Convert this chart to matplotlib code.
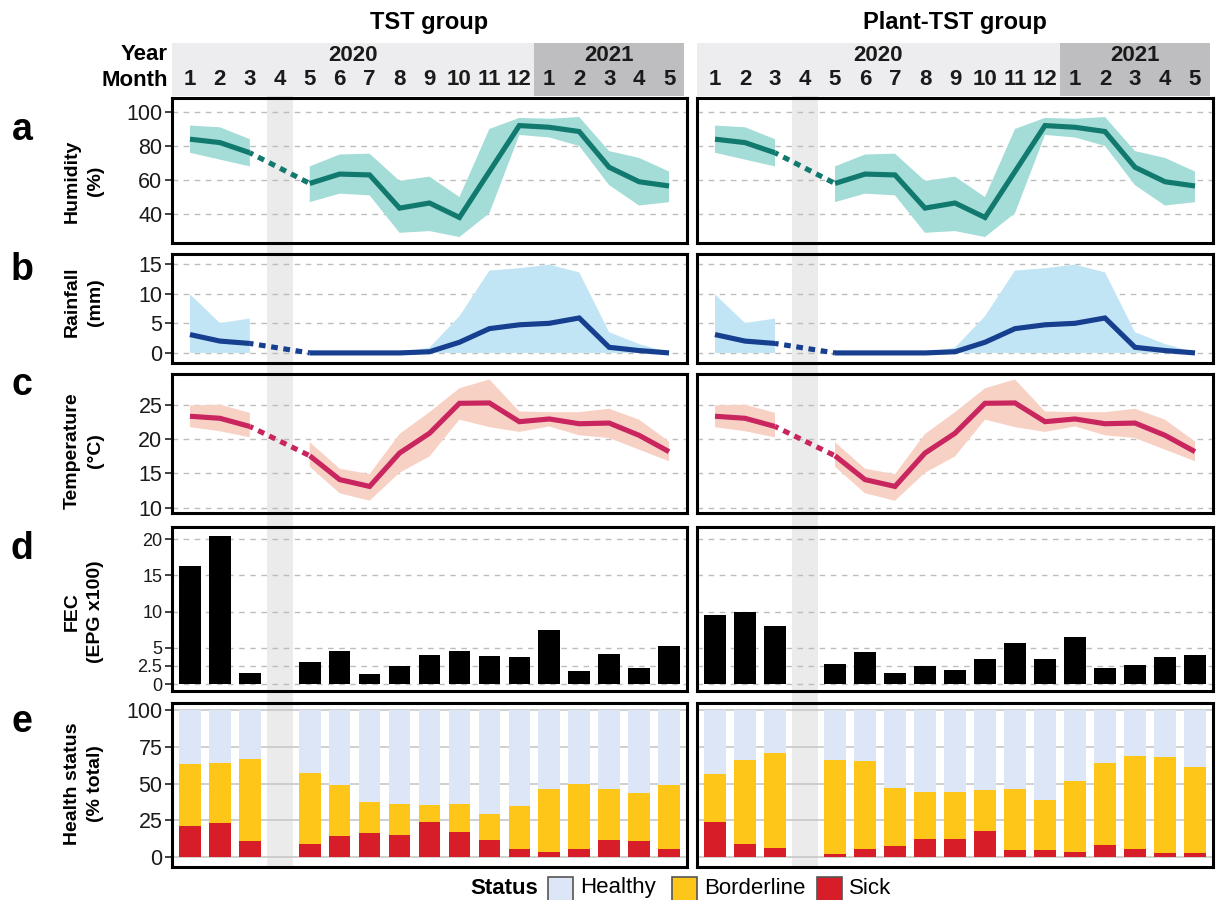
import numpy as np
import matplotlib.pyplot as plt
from matplotlib.patches import Rectangle
from matplotlib.transforms import blended_transform_factory

plt.rcParams['font.family'] = ['Liberation Sans', 'DejaVu Sans']

nan = np.nan

# --- data ---
month_labels = ['1', '2', '3', '4', '5', '6', '7', '8', '9', '10', '11', '12',
                '1', '2', '3', '4', '5']
year_labels = ['2020', '2021']
year_n_months = [12, 5]
groups = ['TST group', 'Plant-TST group']

hum_mean = [84, 82, 76, nan, 58, 63.5, 63, 43.5, 46.5, 38, 65, 92, 91, 88.5, 67.5, 59, 56.5]
hum_lo = [76, 72, 68, nan, 47, 52, 51, 29, 30, 26.5, 40.5, 86.5, 85, 80, 57, 45, 47]
hum_hi = [92, 91, 84, nan, 68, 75, 75.5, 59.5, 62, 50, 90, 96.5, 96, 97, 77, 73, 65]

rain_mean = [3.1, 2.0, 1.6, nan, 0, 0, 0, 0, 0.2, 1.8, 4.1, 4.75, 5.0, 5.9, 0.95, 0.4, 0.0]
rain_lo = [0, 0, 0, nan, 0, 0, 0, 0, 0, 0, 0, 0, 0, 0, 0, 0, 0]
rain_hi = [9.9, 5.05, 5.8, nan, 0, 0, 0, 0, 0.9, 6.2, 13.9, 14.3, 14.9, 13.6, 3.5, 1.5, 0.1]

temp_mean = [23.4, 23.1, 21.9, nan, 17.6, 14.1, 13.1, 18.0, 20.9, 25.3, 25.35, 22.6, 23.0, 22.3, 22.4, 20.6, 18.2]
temp_lo = [21.8, 21.2, 20.3, nan, 16.0, 12.1, 11.0, 15.1, 17.5, 22.9, 21.8, 21.1, 21.9, 20.6, 20.2, 18.5, 16.8]
temp_hi = [25.0, 25.1, 23.9, nan, 19.6, 15.7, 14.9, 20.8, 24.0, 27.5, 28.8, 24.1, 24.0, 24.0, 24.5, 22.9, 19.7]

fec_tst = [16.3, 20.4, 1.56, nan, 3.1, 4.5, 1.42, 2.47, 4.03, 4.62, 3.94, 3.8, 7.41, 1.74, 4.12, 2.2, 5.26]
fec_plant = [9.5, 9.95, 8.0, nan, 2.8, 4.36, 1.56, 2.52, 1.97, 3.49, 5.73, 3.53, 6.5, 2.16, 2.6, 3.67, 4.04]

sick_tst = [21.1, 23.1, 11.3, nan, 8.8, 14.5, 16.3, 15.4, 23.8, 16.8, 12.0, 5.9, 3.6, 5.7, 12.0, 11.1, 5.4]
border_tst = [42.4, 40.8, 55.6, nan, 48.3, 34.5, 21.3, 20.4, 11.6, 19.5, 17.5, 29.2, 42.9, 43.7, 34.3, 32.2, 43.6]
healthy_tst = [36.5, 36.1, 33.1, nan, 42.9, 51.0, 62.4, 64.2, 64.6, 63.7, 70.5, 64.9, 53.5, 50.6, 53.7, 56.7, 51.0]

sick_plant = [23.8, 9.3, 6.6, nan, 2.0, 5.9, 7.9, 12.7, 12.7, 17.5, 5.0, 5.2, 3.9, 8.6, 5.9, 2.7, 2.9]
border_plant = [32.7, 56.5, 64.1, nan, 64.2, 59.2, 39.3, 31.5, 31.7, 28.1, 41.0, 33.6, 48.0, 55.3, 62.6, 65.3, 58.3]
healthy_plant = [43.5, 34.2, 29.3, nan, 33.8, 34.9, 52.8, 55.8, 55.6, 54.4, 54.0, 61.2, 48.1, 36.1, 31.5, 32.0, 38.8]

missing_idx = 3  # April 2020, no sampling

status_names = ['Healthy', 'Borderline', 'Sick']
status_colors = ['#DCE6F6', '#FDC619', '#D71E28']

# --- layout in pixels ---
W, H = 1219, 900
fig = plt.figure(figsize=(W / 100, H / 100), dpi=100)


def add_ax(x0, y0, x1, y1):
    return fig.add_axes([x0 / W, 1 - y1 / H, (x1 - x0) / W, (y1 - y0) / H])


col_x = [(172, 687), (697, 1213)]
rows_y = [(98, 243), (254, 363), (374, 513), (527, 691), (703, 867)]
header_y = (43, 96)
XLIM = (-0.6, 16.6)

x = np.arange(len(month_labels))

panel_letters = ['a', 'b', 'c', 'd', 'e']
letter_y = [130, 270, 385, 549, 722]
ylabels = ['Humidity\n(%)', 'Rainfall\n(mm)', 'Temperature\n(°C)', 'FEC\n(EPG x100)',
           'Health status\n(% total)']
ylabel_y = [181, 302, 451, 612, 784]
ylims = [(23, 108.2), (-1.7, 16.7), (9.2, 29.6), (-0.96, 21.7), (-6.6, 104.6)]
yticks = [[40, 60, 80, 100], [0, 5, 10, 15], [10, 15, 20, 25], [0, 2.5, 5, 10, 15, 20],
          [0, 25, 50, 75, 100]]
ytick_lbls = [None, None, None, ['0', '2.5', '5', '10', '15', '20'], None]
ytick_size = [15.5, 15.5, 15.5, 13, 15.5]

climate = [
    (hum_mean, hum_lo, hum_hi, '#11796E', '#A4DCD8'),
    (rain_mean, rain_lo, rain_hi, '#173F8F', '#C1E5F5'),
    (temp_mean, temp_lo, temp_hi, '#C9265F', '#F8D1C5'),
]
fec_data = [fec_tst, fec_plant]
health_data = [(healthy_tst, border_tst, sick_tst), (healthy_plant, border_plant, sick_plant)]

LW = 3.7
BAR_W = 0.72

for g, (x0, x1) in enumerate(col_x):
    # header with year / month strips
    hax = add_ax(x0, header_y[0], x1, header_y[1])
    hax.set_xlim(XLIM)
    hax.set_ylim(0, 1)
    hax.axis('off')
    start = -0.5
    for yr, n, col in zip(year_labels, year_n_months, ['#EDEDF0', '#BEBDBF']):
        lo = XLIM[0] if start < 0 else start
        hi = min(start + n, XLIM[1])
        hax.axvspan(lo, hi, color=col, lw=0)
        hax.text((lo + hi) / 2, 0.77, yr, ha='center', va='center', fontsize=16,
                 fontweight='bold', color='#1a1a1a')
        start += n
    for xi, m in zip(x, month_labels):
        hax.text(xi, 0.31, m, ha='center', va='center', fontsize=16,
                 fontweight='bold', color='#1a1a1a')

    fig.text(((x0 + x1) / 2) / W, 1 - 22 / H, groups[g], ha='center', va='center',
             fontsize=17, fontweight='bold')

    axes = []
    for r, (y0, y1) in enumerate(rows_y):
        ax = add_ax(x0, y0, x1, y1)
        ax.set_facecolor('none')
        ax.set_xlim(XLIM)
        ax.set_ylim(ylims[r])
        ax.set_xticks([])
        ax.set_yticks(yticks[r])
        for sp in ax.spines.values():
            sp.set_linewidth(2.2)
            sp.set_color('black')
        if r < 4:
            ax.grid(axis='y', color='#BDBDBD', lw=1.0, ls=(0, (4, 4)), zorder=0)
        else:
            ax.grid(axis='y', color='#C8C8C8', lw=1.2, ls='-', zorder=0)
        ax.set_axisbelow(True)
        if g == 0:
            ax.tick_params(axis='y', length=5, width=1.3, color='#333333',
                           labelsize=ytick_size[r], labelcolor='#1a1a1a', pad=2)
            if ytick_lbls[r] is not None:
                ax.set_yticklabels(ytick_lbls[r])
        else:
            ax.tick_params(axis='y', length=0, labelleft=False)
        axes.append(ax)

    # climate panels a-c
    for r in range(3):
        mean, lo, hi, lc, fc = climate[r]
        ax = axes[r]
        ax.fill_between(x, lo, hi, color=fc, lw=0, zorder=1)
        ax.plot(x, mean, color=lc, lw=LW, solid_capstyle='butt', solid_joinstyle='miter', zorder=2)
        i0, i1 = missing_idx - 1, missing_idx + 1
        ax.plot([x[i0], x[i1]], [mean[i0], mean[i1]], color=lc, lw=LW,
                ls=(0.6, (1.3, 1.1)), dash_capstyle='butt', zorder=2)

    # FEC bars
    axes[3].bar(x, fec_data[g], width=BAR_W, color='black', lw=0, zorder=2)

    # health status stacked bars
    healthy, border, sick = health_data[g]
    bottom = np.zeros(len(x))
    for vals, col in zip([sick, border, healthy], status_colors[::-1]):
        v = np.array(vals, dtype=float)
        axes[4].bar(x, v, bottom=bottom, width=BAR_W, color=col, lw=0, zorder=2)
        bottom = bottom + np.nan_to_num(v)

    # grey band for the missing month, running behind all panels
    trans = blended_transform_factory(axes[0].transData, fig.transFigure)
    band = Rectangle((missing_idx - 0.43, 1 - 869 / H), 0.86, (869 - header_y[1]) / H,
                     transform=trans, facecolor='#EBEBEB', lw=0, zorder=-1)
    fig.add_artist(band)

# left-side labels
for r in range(5):
    fig.text(22 / W, 1 - letter_y[r] / H, panel_letters[r], ha='center', va='center',
             fontsize=27, fontweight='bold')
    fig.text(84 / W, 1 - ylabel_y[r] / H, ylabels[r], ha='center', va='center',
             rotation=90, fontsize=14, fontweight='bold', multialignment='center',
             linespacing=1.45)

fig.text(168 / W, 1 - 55 / H, 'Year', ha='right', va='center', fontsize=16, fontweight='bold')
fig.text(168 / W, 1 - 80 / H, 'Month', ha='right', va='center', fontsize=16, fontweight='bold')

# legend along the bottom
leg_y = 888
fig.text(538 / W, 1 - leg_y / H, 'Status', ha='right', va='center', fontsize=16,
         fontweight='bold')
box_x = [548, 672, 817]
for name, col, bx in zip(status_names, status_colors, box_x):
    fig.add_artist(Rectangle((bx / W, 1 - 902 / H), 25 / W, 25 / H, transform=fig.transFigure,
                             facecolor=col, edgecolor='#555555', lw=1.2))
    fig.text((bx + 32) / W, 1 - leg_y / H, name, ha='left', va='center', fontsize=16)

fig.savefig('out.png', dpi=100)
